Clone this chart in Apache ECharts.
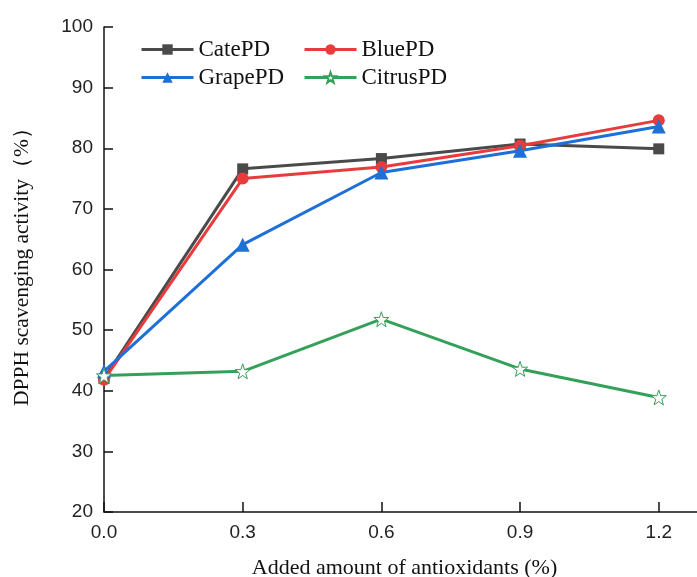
<!DOCTYPE html>
<html><head><meta charset="utf-8">
<script src="https://cdn.jsdelivr.net/npm/echarts@6/dist/echarts.min.js"></script>
<style>html,body{margin:0;padding:0;background:#fff}#c{width:697px;height:577px}</style>
</head><body><div id="c"></div>
<script>
const xValues = [0, 0.3, 0.6, 0.9, 1.2];
const catePD = [42.0, 76.6, 78.3, 80.7, 79.9];
const bluePD = [41.8, 75.0, 76.9, 80.4, 84.6];
const grapePD = [43.2, 64.1, 76.0, 79.6, 83.6];
const citrusPD = [42.5, 43.2, 51.8, 43.6, 38.9];
const seriesNames = ['CatePD', 'BluePD', 'GrapePD', 'CitrusPD'];
const xTickLabels = ['0.0', '0.3', '0.6', '0.9', '1.2'];

const pair = arr => xValues.map((x, i) => [x, arr[i]]);
const serif = '"Liberation Serif", "Times New Roman", serif';
const sans = '"Liberation Sans", Arial, sans-serif';
const starPath = 'path://M50,0 L61.8,35.3 L97.6,34.5 L69,56.5 L79.4,90.5 L50,70 L20.6,90.5 L31,56.5 L2.4,34.5 L38.2,35.3 Z';

function mkSeries(name, data, color, symbol, size, extra) {
  return Object.assign({
    name, type: 'line', data: pair(data), symbol, symbolSize: size,
    lineStyle: { color, width: 3 }, itemStyle: { color },
    z: 2
  }, extra || {});
}
function mkLegend(name, left, top) {
  return {
    data: [name], left, top, itemWidth: 52, itemHeight: 13, itemGap: 0,
    lineStyle: { width: 3 },
    textStyle: { fontFamily: serif, fontSize: 23, color: '#111', lineHeight: 23 }
  };
}

const chart = echarts.init(document.getElementById('c'));
chart.setOption({
  animation: false,
  backgroundColor: '#fff',
  grid: { left: 104, top: 27, width: 601, bottom: 65, containLabel: false, outerBoundsMode: 'none' },
  legend: [
    mkLegend(seriesNames[0], 135, 33),
    mkLegend(seriesNames[1], 298, 33),
    mkLegend(seriesNames[2], 135, 61),
    mkLegend(seriesNames[3], 298, 61)
  ],
  xAxis: {
    type: 'value', min: 0, max: 1.3, interval: 0.3,
    name: 'Added amount of antioxidants (%)', nameLocation: 'middle', nameGap: 45,
    nameTextStyle: { fontFamily: serif, fontSize: 22, color: '#111' },
    axisLine: { lineStyle: { color: '#111', width: 1.5 } },
    axisTick: { inside: true, length: 10, lineStyle: { color: '#111', width: 1.5 } },
    axisLabel: { fontFamily: sans, fontSize: 19, color: '#222', margin: 11,
      formatter: v => { const i = xValues.findIndex(x => Math.abs(x - v) < 1e-6); return i >= 0 ? xTickLabels[i] : ''; } },
    splitLine: { show: false }
  },
  yAxis: {
    type: 'value', min: 20, max: 100, interval: 10,
    name: 'DPPH scavenging activity（%）', nameLocation: 'middle', nameGap: 71,
    nameTextStyle: { fontFamily: serif, fontSize: 21.5, color: '#111', padding: [0, 0, 0, 16] },
    axisLine: { show: true, lineStyle: { color: '#111', width: 1.5 } },
    axisTick: { show: true, inside: true, length: 9, lineStyle: { color: '#111', width: 1.5 } },
    axisLabel: { fontFamily: sans, fontSize: 19, color: '#222', margin: 11 },
    splitLine: { show: false }
  },
  series: [
    mkSeries(seriesNames[0], catePD, '#4a4a4a', 'rect', 11),
    mkSeries(seriesNames[1], bluePD, '#e83b3c', 'circle', 12),
    mkSeries(seriesNames[2], grapePD, '#1f6fd8', 'triangle', 14),
    mkSeries(seriesNames[3], citrusPD, '#35a05a', starPath, 15,
      { itemStyle: { color: '#fff', borderColor: '#35a05a', borderWidth: 1 } })
  ]
});
</script></body></html>
